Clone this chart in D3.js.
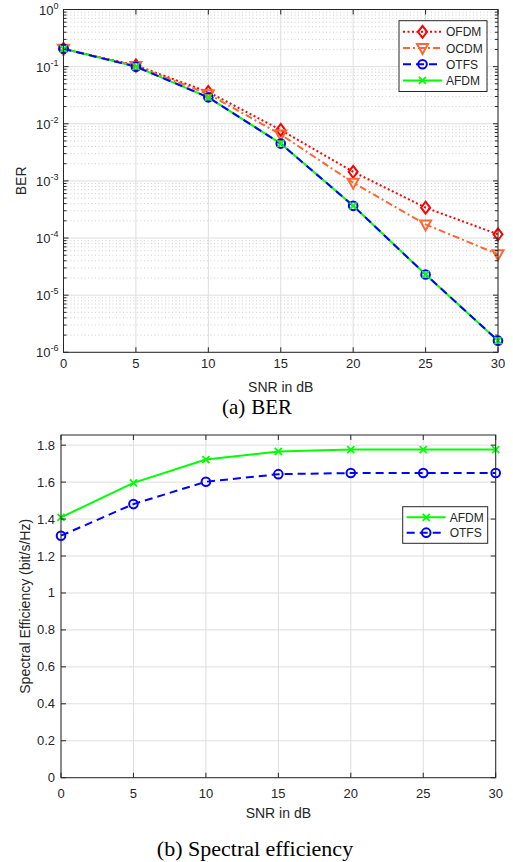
<!DOCTYPE html>
<html>
<head>
<meta charset="utf-8">
<script src="https://cdn.jsdelivr.net/npm/d3@7"></script>
<style>
  body { margin: 0; background: #fff; }
  text { font-family: "Liberation Sans", Arial, sans-serif; fill: #262626; }
  .caption { font-family: "Liberation Serif", "Times New Roman", serif; fill: #000; }
</style>
</head>
<body>
<div id="chart"></div>
<script>
var svgWidth = 513;
var svgHeight = 862;

// data
var snr = [0, 5, 10, 15, 20, 25, 30];
var berOFDM = [0.205, 0.105, 0.036, 0.0078, 0.00144, 0.00034, 0.000116];
var berOCDM = [0.205, 0.103, 0.033, 0.0065, 0.00093, 0.000173, 0.000052];
var berOTFS = [0.205, 0.1, 0.029, 0.0045, 0.000366, 0.000023, 0.0000016];
var berAFDM = [0.205, 0.1, 0.029, 0.0045, 0.000366, 0.000023, 0.0000016];
var seAFDM = [1.409, 1.596, 1.722, 1.766, 1.776, 1.776, 1.776];
var seOTFS = [1.31, 1.481, 1.602, 1.643, 1.649, 1.649, 1.649];
var xTicks = [0, 5, 10, 15, 20, 25, 30];
var berExp = [0, -1, -2, -3, -4, -5, -6];
var seTicks = [0, 0.2, 0.4, 0.6, 0.8, 1, 1.2, 1.4, 1.6, 1.8];

var axisColor = "#262626";
var gridColor = "#dedede";
var tickFont = 13;
var labelFont = 14;

var svg = d3.select("#chart")
  .append("svg")
  .attr("width", svgWidth)
  .attr("height", svgHeight);

// series styles
var styles = {
  OFDM: { color: "#ff0000", dash: "2,2.5", marker: "diamond" },
  OCDM: { color: "#ff6633", dash: "7,3,2,3", marker: "triangle" },
  OTFS: { color: "#0000ff", dash: "8,5", marker: "circle" },
  AFDM: { color: "#00ff00", dash: null, marker: "x" }
};

function drawMarker(g, type, color, x, y) {
  if (type === "diamond") {
    g.append("path")
      .attr("d", `M${x},${y - 6}L${x + 4.5},${y}L${x},${y + 6}L${x - 4.5},${y}Z`)
      .attr("fill", "none").attr("stroke", color).attr("stroke-width", 2);
  } else if (type === "triangle") {
    g.append("path")
      .attr("d", `M${x - 5.5},${y - 4}L${x + 5.5},${y - 4}L${x},${y + 6}Z`)
      .attr("fill", "none").attr("stroke", color).attr("stroke-width", 2);
  } else if (type === "circle") {
    g.append("circle")
      .attr("cx", x).attr("cy", y).attr("r", 4.3)
      .attr("fill", "none").attr("stroke", color).attr("stroke-width", 2);
  } else {
    g.append("path")
      .attr("d", `M${x - 3.5},${y - 3.5}L${x + 3.5},${y + 3.5}M${x - 3.5},${y + 3.5}L${x + 3.5},${y - 3.5}`)
      .attr("fill", "none").attr("stroke", color).attr("stroke-width", 1.8);
  }
}

function drawSeries(g, xs, ys, vals, name) {
  var st = styles[name];
  var line = d3.line()
    .x((d, i) => xs(snr[i]))
    .y(d => ys(d));
  var p = g.append("path")
    .datum(vals)
    .attr("d", line)
    .attr("fill", "none")
    .attr("stroke", st.color)
    .attr("stroke-width", 2);
  if (st.dash) p.attr("stroke-dasharray", st.dash);
}

function drawMarkers(g, xs, ys, vals, name) {
  var st = styles[name];
  vals.forEach(function (d, i) {
    drawMarker(g, st.marker, st.color, xs(snr[i]), ys(d));
  });
}

function legendBox(g, names, x0, y0, w, rowH) {
  var h = names.length * rowH + 6;
  g.append("rect")
    .attr("x", x0).attr("y", y0)
    .attr("width", w).attr("height", h)
    .attr("fill", "#fff").attr("stroke", axisColor).attr("stroke-width", 1);
  names.forEach(function (n, i) {
    var st = styles[n];
    var y = y0 + 3 + rowH * (i + 0.5);
    var l = g.append("line")
      .attr("x1", x0 + 4).attr("x2", x0 + 43)
      .attr("y1", y).attr("y2", y)
      .attr("stroke", st.color).attr("stroke-width", 2);
    if (st.dash) l.attr("stroke-dasharray", st.dash);
    drawMarker(g, st.marker, st.color, x0 + 23.5, y);
    g.append("text")
      .attr("x", x0 + 47).attr("y", y + 4.5)
      .attr("font-size", 12)
      .text(n);
  });
}

// ================= (a) BER =================
var a = { left: 63.5, right: 498, top: 9.5, bottom: 352.3 };
var xA = d3.scaleLinear().domain([0, 30]).range([a.left, a.right]);
var yA = d3.scaleLog().domain([1e-6, 1]).range([a.bottom, a.top]);
var gA = svg.append("g");

// minor grid (dotted) and minor ticks
var minorVals = [];
berExp.slice(1).forEach(function (e) {
  for (var k = 2; k <= 9; k++) minorVals.push(k * Math.pow(10, e));
});
gA.selectAll(".minorgrid")
  .data(minorVals).enter().append("line")
  .attr("x1", a.left).attr("x2", a.right)
  .attr("y1", d => yA(d)).attr("y2", d => yA(d))
  .attr("stroke", "#c4c4c4").attr("stroke-width", 0.8)
  .attr("stroke-dasharray", "1,2.5");
// major grid
gA.selectAll(".ygrid")
  .data(berExp.map(e => Math.pow(10, e))).enter().append("line")
  .attr("x1", a.left).attr("x2", a.right)
  .attr("y1", d => yA(d)).attr("y2", d => yA(d))
  .attr("stroke", gridColor).attr("stroke-width", 1);
gA.selectAll(".xgrid")
  .data(xTicks).enter().append("line")
  .attr("x1", d => xA(d)).attr("x2", d => xA(d))
  .attr("y1", a.top).attr("y2", a.bottom)
  .attr("stroke", gridColor).attr("stroke-width", 1);

// series
drawSeries(gA, xA, yA, berOFDM, "OFDM");
drawSeries(gA, xA, yA, berOCDM, "OCDM");
drawSeries(gA, xA, yA, berAFDM, "AFDM");
drawSeries(gA, xA, yA, berOTFS, "OTFS");
drawMarkers(gA, xA, yA, berOFDM, "OFDM");
drawMarkers(gA, xA, yA, berOCDM, "OCDM");
drawMarkers(gA, xA, yA, berOTFS, "OTFS");
drawMarkers(gA, xA, yA, berAFDM, "AFDM");

// axes box
gA.append("rect")
  .attr("x", a.left).attr("y", a.top)
  .attr("width", a.right - a.left).attr("height", a.bottom - a.top)
  .attr("fill", "none").attr("stroke", axisColor).attr("stroke-width", 1);

// ticks
gA.selectAll(".ytickL")
  .data(berExp).enter().append("path")
  .attr("d", d => `M${a.left},${yA(Math.pow(10, d))}h5M${a.right},${yA(Math.pow(10, d))}h-5`)
  .attr("stroke", axisColor);
gA.selectAll(".ytickm")
  .data(minorVals).enter().append("path")
  .attr("d", d => `M${a.left},${yA(d)}h3M${a.right},${yA(d)}h-3`)
  .attr("stroke", axisColor);
gA.selectAll(".xtick")
  .data(xTicks).enter().append("path")
  .attr("d", d => `M${xA(d)},${a.bottom}v-5M${xA(d)},${a.top}v5`)
  .attr("stroke", axisColor);

// tick labels
gA.selectAll(".xlab")
  .data(xTicks).enter().append("text")
  .attr("x", d => xA(d)).attr("y", a.bottom + 16)
  .attr("text-anchor", "middle").attr("font-size", tickFont)
  .text(d => d);
var yl = gA.selectAll(".ylab")
  .data(berExp).enter().append("text")
  .attr("x", a.left - 5).attr("y", d => yA(Math.pow(10, d)) + 5)
  .attr("text-anchor", "end").attr("font-size", tickFont);
yl.append("tspan").text("10");
yl.append("tspan").attr("dy", -6).attr("font-size", 9).text(d => d);

gA.append("text")
  .attr("transform", `translate(26, ${(a.top + a.bottom) / 2}) rotate(-90)`)
  .attr("text-anchor", "middle").attr("font-size", labelFont)
  .text("BER");
gA.append("text")
  .attr("x", (a.left + a.right) / 2).attr("y", a.bottom + 40)
  .attr("text-anchor", "middle").attr("font-size", labelFont)
  .text("SNR in dB");

legendBox(gA, ["OFDM", "OCDM", "OTFS", "AFDM"], 399, 20.7, 88, 16.2);

var capA = svg.append("text")
  .attr("class", "caption")
  .attr("x", 257).attr("y", 414)
  .attr("text-anchor", "middle").attr("font-size", 21);
capA.append("tspan").text("(a)");
capA.append("tspan").attr("dx", 6).text("BER");

// ================= (b) Spectral efficiency =================
var b = { left: 61, right: 495.7, top: 435, bottom: 777.7 };
var xB = d3.scaleLinear().domain([0, 30]).range([b.left, b.right]);
var yB = d3.scaleLinear().domain([0, 1.855]).range([b.bottom, b.top]);
var gB = svg.append("g");

gB.selectAll(".ygrid")
  .data(seTicks).enter().append("line")
  .attr("x1", b.left).attr("x2", b.right)
  .attr("y1", d => yB(d)).attr("y2", d => yB(d))
  .attr("stroke", gridColor).attr("stroke-width", 1);
gB.selectAll(".xgrid")
  .data(xTicks).enter().append("line")
  .attr("x1", d => xB(d)).attr("x2", d => xB(d))
  .attr("y1", b.top).attr("y2", b.bottom)
  .attr("stroke", gridColor).attr("stroke-width", 1);

drawSeries(gB, xB, yB, seAFDM, "AFDM");
drawSeries(gB, xB, yB, seOTFS, "OTFS");
drawMarkers(gB, xB, yB, seAFDM, "AFDM");
drawMarkers(gB, xB, yB, seOTFS, "OTFS");

gB.append("rect")
  .attr("x", b.left).attr("y", b.top)
  .attr("width", b.right - b.left).attr("height", b.bottom - b.top)
  .attr("fill", "none").attr("stroke", axisColor).attr("stroke-width", 1);

gB.selectAll(".ytick")
  .data(seTicks).enter().append("path")
  .attr("d", d => `M${b.left},${yB(d)}h5M${b.right},${yB(d)}h-5`)
  .attr("stroke", axisColor);
gB.selectAll(".xtick")
  .data(xTicks).enter().append("path")
  .attr("d", d => `M${xB(d)},${b.bottom}v-5M${xB(d)},${b.top}v5`)
  .attr("stroke", axisColor);

gB.selectAll(".xlab")
  .data(xTicks).enter().append("text")
  .attr("x", d => xB(d)).attr("y", b.bottom + 20)
  .attr("text-anchor", "middle").attr("font-size", tickFont)
  .text(d => d);
gB.selectAll(".ylab")
  .data(seTicks).enter().append("text")
  .attr("x", b.left - 6).attr("y", d => yB(d) + 4.5)
  .attr("text-anchor", "end").attr("font-size", tickFont)
  .text(d => +d.toFixed(1));

gB.append("text")
  .attr("transform", `translate(30, ${(b.top + b.bottom) / 2}) rotate(-90)`)
  .attr("text-anchor", "middle").attr("font-size", labelFont)
  .text("Spectral Efficiency (bit/s/Hz)");
gB.append("text")
  .attr("x", (b.left + b.right) / 2).attr("y", b.bottom + 40)
  .attr("text-anchor", "middle").attr("font-size", labelFont)
  .text("SNR in dB");

legendBox(gB, ["AFDM", "OTFS"], 402.7, 506.7, 85, 15.3);

svg.append("text")
  .attr("class", "caption")
  .attr("x", 255).attr("y", 856)
  .attr("text-anchor", "middle").attr("font-size", 22)
  .text("(b) Spectral efficiency");
</script>
</body>
</html>
